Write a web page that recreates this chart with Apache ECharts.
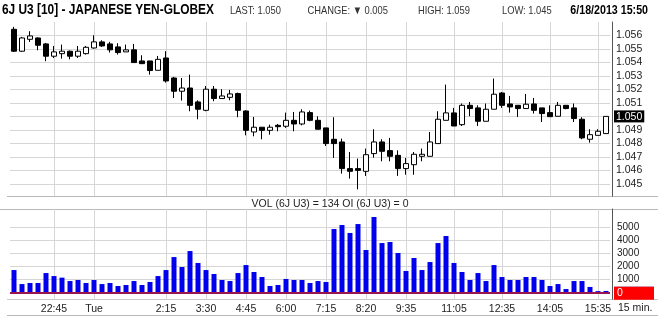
<!DOCTYPE html>
<html><head><meta charset="utf-8">
<script src="https://cdn.jsdelivr.net/npm/echarts@6/dist/echarts.min.js"></script>
<style>html,body{margin:0;padding:0;background:#fff}#c{width:658px;height:318px}</style>
</head><body><div id="c"></div>
<script>
// ---- data ----
const categories = ['21:30','21:45','22:00','22:15','22:30','22:45','23:00','23:15','23:30','23:45',
 '0:00','0:15','0:30','0:45','1:00','1:15','1:30','1:45','2:00','2:15','2:30','2:45','3:00','3:15','3:30','3:45',
 '4:00','4:15','4:30','4:45','5:00','5:15','5:30','5:45','6:00','6:15','6:30','6:45','7:00','7:15',
 '7:20','7:35','7:50','8:05','8:20','8:35','8:50','9:05','9:20','9:35','9:50','10:05','10:20','10:35','10:50',
 '11:05','11:20','11:35','11:50','12:05','12:20','12:35','12:50','13:05','13:20','13:35','13:50','14:05',
 '14:20','14:35','14:50','15:05','15:20','15:35','15:50'];
const opens = [1.05644,1.05482,1.05570,1.05580,1.05536,1.05445,1.05464,1.05482,1.05445,1.05464,
 1.05506,1.05551,1.05536,1.05514,1.05477,1.05492,1.05410,1.05410,1.05341,1.05432,
 1.05284,1.05186,1.05210,1.05107,1.05045,1.05201,1.05132,1.05141,1.05169,1.05040,
 1.04885,1.04920,1.04897,1.04934,1.04927,1.04971,1.04944,1.05028,1.04971,1.04915,
 1.04831,1.04811,1.04614,1.04614,1.04594,1.04725,1.04811,1.04747,1.04712,1.04614,
 1.04643,1.04705,1.04705,1.04799,1.04971,1.05026,1.04939,1.05082,1.05063,1.04964,
 1.05053,1.05173,1.05092,1.05082,1.05058,1.05092,1.05063,1.05028,1.05001,1.05082,
 1.05063,1.04979,1.04831,1.04860,1.04873];
const closes = [1.05482,1.05580,1.05595,1.05526,1.05445,1.05477,1.05482,1.05445,1.05482,1.05511,
 1.05551,1.05521,1.05492,1.05472,1.05492,1.05398,1.05390,1.05339,1.05422,1.05262,
 1.05186,1.05210,1.05082,1.05053,1.05201,1.05132,1.05151,1.05166,1.05045,1.04897,
 1.04920,1.04897,1.04920,1.04924,1.04971,1.04944,1.05033,1.04971,1.04905,1.04799,
 1.04799,1.04614,1.04594,1.04601,1.04717,1.04811,1.04742,1.04705,1.04614,1.04651,
 1.04720,1.04720,1.04811,1.04979,1.05026,1.04929,1.05082,1.05058,1.04964,1.05053,
 1.05164,1.05082,1.05070,1.05058,1.05090,1.05045,1.05021,1.04998,1.05082,1.05058,
 1.04984,1.04841,1.04865,1.04890,1.05000];
const lows = [1.05477,1.05477,1.05551,1.05489,1.05408,1.05432,1.05427,1.05422,1.05432,1.05457,
 1.05501,1.05514,1.05472,1.05457,1.05477,1.05398,1.05390,1.05309,1.05341,1.05250,
 1.05136,1.05117,1.05038,1.04979,1.05038,1.05112,1.05132,1.05119,1.04994,1.04860,
 1.04853,1.04831,1.04865,1.04890,1.04915,1.04890,1.04934,1.04964,1.04905,1.04781,
 1.04693,1.04577,1.04540,1.04461,1.04560,1.04695,1.04668,1.04668,1.04560,1.04569,
 1.04569,1.04668,1.04705,1.04799,1.04971,1.04929,1.04929,1.05001,1.04929,1.04964,
 1.05053,1.05063,1.05028,1.04996,1.05058,1.05021,1.04959,1.04998,1.05001,1.05053,
 1.04959,1.04831,1.04806,1.04860,1.04873];
const highs = [1.05662,1.05588,1.05630,1.05585,1.05543,1.05521,1.05531,1.05487,1.05521,1.05521,
 1.05600,1.05563,1.05551,1.05541,1.05531,1.05536,1.05452,1.05410,1.05447,1.05482,
 1.05292,1.05284,1.05309,1.05119,1.05225,1.05225,1.05201,1.05196,1.05176,1.05045,
 1.04996,1.04920,1.04939,1.04944,1.05028,1.05033,1.05053,1.05043,1.05001,1.04915,
 1.04994,1.04836,1.04737,1.04688,1.04762,1.04905,1.04831,1.04841,1.04749,1.04693,
 1.04737,1.04762,1.04885,1.05038,1.05235,1.05063,1.05095,1.05107,1.05082,1.05095,
 1.05280,1.05181,1.05151,1.05082,1.05166,1.05136,1.05063,1.05082,1.05107,1.05082,
 1.05095,1.04994,1.04905,1.04905,1.05000];
const volumes = [1730,660,740,740,1500,1270,1150,890,970,740,
 970,660,740,510,590,890,590,820,1270,1730,
 2720,1960,3180,2270,1730,1430,970,890,1500,2110,
 1580,1200,510,590,1050,970,970,740,890,820,
 4860,5170,4560,5240,3260,5780,3790,3870,3030,1660,
 2650,1730,2340,3790,4330,2270,1580,970,1500,890,
 2110,1200,970,970,1200,1200,970,510,660,280,
 890,890,440,120,134];
const openInterest = 0;
const shownTimes = ['22:45','0:00','2:15','3:30','4:45','6:00','7:15','8:20','9:35','11:05','12:35','14:05','15:35'];
const shownTimeText = ['22:45','Tue','2:15','3:30','4:45','6:00','7:15','8:20','9:35','11:05','12:35','14:05','15:35'];
const priceLabelMin = 1.045, priceLabelMax = 1.056;
const volLabels = [1000,2000,3000,4000,5000];
const header = {symbol:'6J U3 [10] - JAPANESE YEN-GLOBEX', last:'1.050', change:'0.005', high:'1.059', low:'1.045', stamp:'6/18/2013 15:50'};

// ---- chart ----
const HF = '"Liberation Sans",Arial,sans-serif';
const SANS = '"Liberation Sans",Arial,sans-serif';
const GRID_C = '#d6d6d6';
const NX = 0.82; // narrow-font compression of the header
const chart = echarts.init(document.getElementById('c'), null, {renderer:'canvas'});
const lastStr = closes[closes.length-1].toFixed(3);
const xInterval = (i, v) => shownTimes.indexOf(v !== undefined ? v : categories[i]) >= 0;
const candleData = opens.map((o, i) => [o, closes[i], lows[i], highs[i]]);

const hline = (x1, x2, y, c) => ({type:'line', silent:true, shape:{x1, y1:y, x2, y2:y}, style:{stroke:c, lineWidth:1}});
const htext = (x, y, text, font, fill, align) => ({type:'text', x, y, scaleX:NX, silent:true,
  style:{text, font, fill, align:align||'left', verticalAlign:'middle'}});

chart.setOption({
  animation:false,
  backgroundColor:'#fff',
  grid:[
    {left:10, right:48, top:22, bottom:121.8, outerBoundsMode:'none', containLabel:false},
    {left:10, right:48, top:209, bottom:18.75, outerBoundsMode:'none', containLabel:false}
  ],
  xAxis:[
    {type:'category', gridIndex:0, data:categories, boundaryGap:true,
     axisLine:{show:false}, axisTick:{show:false}, axisLabel:{show:false},
     splitLine:{show:true, interval:(i,v)=>xInterval(i,v), alignWithLabel:true, lineStyle:{color:GRID_C, width:1}}},
    {type:'category', gridIndex:1, data:categories, boundaryGap:true,
     axisLine:{show:false}, axisTick:{show:false},
     axisLabel:{show:true, interval:(i,v)=>xInterval(i,v), margin:4, fontSize:10.5, fontFamily:SANS, color:'#222',
       formatter:(v)=>{const k = shownTimes.indexOf(v); return k>=0 ? shownTimeText[k] : '';}},
     splitLine:{show:true, interval:(i,v)=>xInterval(i,v), alignWithLabel:true, lineStyle:{color:GRID_C, width:1}}}
  ],
  yAxis:[
    {type:'value', gridIndex:0, position:'right', offset:2, min:1.0441, max:1.05698, splitNumber:13, scale:true,
     axisLine:{show:true, lineStyle:{color:'#555'}}, axisTick:{show:false},
     splitLine:{show:true, showMinLine:false, showMaxLine:false, lineStyle:{color:GRID_C}},
     axisLabel:{show:true, margin:2, showMinLabel:false, showMaxLabel:false, fontSize:10.5, fontFamily:SANS, color:'#222',
       formatter:(v)=>{ if (v < priceLabelMin-1e-6 || v > priceLabelMax+1e-6) return ''; const s = v.toFixed(3); return s===lastStr ? '{hl|'+s+'}' : '{n|'+s+'}'; },
       rich:{ n:{padding:[0,2,0,2], color:'#222'}, hl:{padding:[1,2,0,2], color:'#fff', backgroundColor:'#000'} }}},
    {type:'value', gridIndex:1, position:'right', offset:2, min:-500, max:6389, splitNumber:7,
     axisLine:{show:true, lineStyle:{color:'#555'}}, axisTick:{show:false},
     splitLine:{show:true, lineStyle:{color:['rgba(0,0,0,0)',GRID_C,GRID_C,GRID_C,GRID_C,GRID_C,GRID_C,'rgba(0,0,0,0)','rgba(0,0,0,0)']}},
     axisLabel:{show:true, margin:2, fontSize:10, fontFamily:SANS, color:'#222',
       formatter:(v)=>{ if (v===openInterest) return '{bl| }\n{red|'+openInterest+'}'; return volLabels.indexOf(v)>=0 ? '{n|'+v+'}' : ''; },
       rich:{ n:{padding:[0,2,0,3], color:'#222'},
              bl:{width:40, height:1, lineHeight:1, fontSize:1, backgroundColor:'#2a2a80'},
              red:{width:35, padding:[1,2,1,3], lineHeight:11, color:'#fff', backgroundColor:'#ff0000', fontSize:10.5} }}}
  ],
  series:[
    {type:'candlestick', xAxisIndex:0, yAxisIndex:0, data:candleData, barWidth:5,
     itemStyle:{color:'#ffffff', color0:'#000000', borderColor:'#000000', borderColor0:'#000000', borderWidth:1}},
    {type:'bar', xAxisIndex:1, yAxisIndex:1, data:volumes, barWidth:5, itemStyle:{color:'#0000ee'},
     markLine:{silent:true, symbol:'none', label:{show:false}, lineStyle:{color:'#9a1550', width:2, type:'solid'},
       data:[{yAxis:openInterest}]}}
  ],
  graphic:[
    htext(2, 10, header.symbol, 'bold 14.5px '+HF, '#000'),
    htext(230, 10.5, 'LAST: '+header.last, '11.4px '+HF, '#333'),
    htext(307.5, 10.5, 'CHANGE: \u25BC '+header.change, '11.4px '+HF, '#333'),
    htext(418, 10.5, 'HIGH: '+header.high, '11.4px '+HF, '#333'),
    htext(502, 10.5, 'LOW: '+header.low, '11.4px '+HF, '#333'),
    htext(648, 10, header.stamp, 'bold 13px '+HF, '#000', 'right'),
    {type:'text', x:330, y:204, style:{text:'VOL (6J U3) = '+volumes[volumes.length-1]+' OI (6J U3) = '+openInterest, font:'10.5px '+SANS, fill:'#222', align:'center', verticalAlign:'middle'}},
    {type:'text', x:618, y:308, style:{text:'15 min.', font:'10.5px '+SANS, fill:'#222', verticalAlign:'middle'}},
    hline(7, 658, 196.5, '#b8b8b8'),
    hline(0, 658, 209.5, '#b8b8b8'),
    hline(7, 658, 299.5, '#c8c8c8'),
    hline(7, 658, 315.5, '#b8b8b8')
  ]
});
</script></body></html>
